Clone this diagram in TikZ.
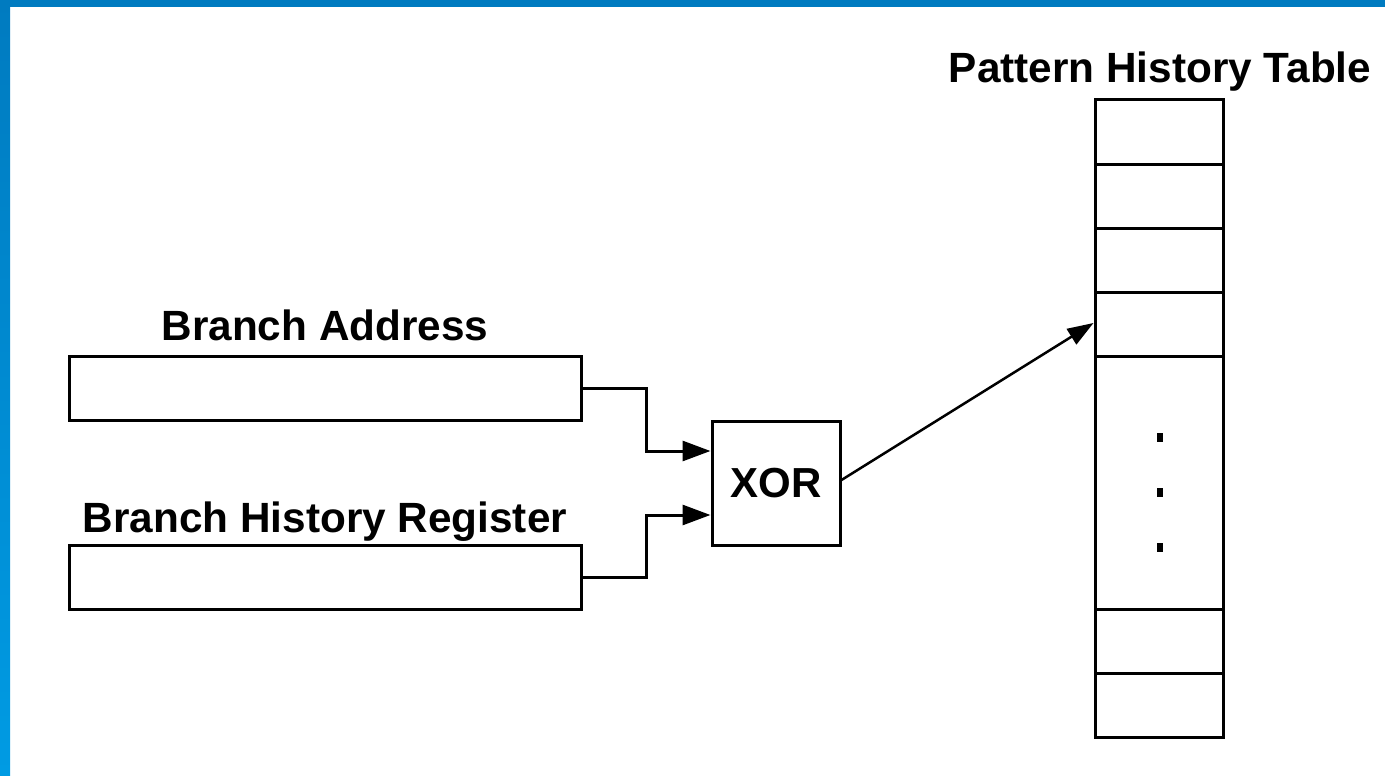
\documentclass[tikz,border=0pt]{standalone}
\usepackage{fontspec}
\setmainfont{Liberation Sans}
\usetikzlibrary{arrows.meta,calc}
\definecolor{framebluetop}{HTML}{007BC0}
\definecolor{frameblueleft}{HTML}{009BE3}
\begin{document}
\begin{tikzpicture}[x=1pt,y=-1pt,
  lbl/.style={font=\fontsize{42.3}{50}\selectfont\bfseries, anchor=base, inner sep=0pt},
  regbox/.style={draw, line width=3pt, minimum width=512pt, minimum height=64pt, inner sep=0pt},
  cell/.style={draw, line width=3pt, minimum width=128pt, inner sep=0pt},
  gate/.style={draw, line width=3pt, minimum width=128pt, minimum height=124pt, inner sep=0pt,
    font=\fontsize{42}{50}\selectfont\bfseries},
  wire/.style={line width=3pt, -{Triangle[length=28pt,width=20pt]}},
  ptr/.style={line width=2.5pt, -{Triangle[length=26pt,width=18pt]}},
  dot/.style={fill=black, minimum width=6pt, minimum height=9pt, inner sep=0pt}]
\useasboundingbox (0,0) rectangle (1385,776);
\fill[white] (0,0) rectangle (1385,776);
% frame
\shade[top color=framebluetop, bottom color=frameblueleft] (0,0) rectangle (10,776);
\fill[framebluetop] (0,0) rectangle (1385,7);

% input registers
\node[regbox] (ba) at (325,388) {};
\node[regbox] (bhr) at (325,577) {};
\node[lbl] (balbl) at (325,340) {Branch Address};
\node[lbl] (bhrlbl) at (325,532) {Branch History Register};

% hashing gate
\node[gate] (xor) at (776,483) {XOR};

% pattern history table
\node[cell, minimum height=64pt] (c1) at (1159,132) {};
\node[cell, minimum height=64pt] (c2) at (1159,196) {};
\node[cell, minimum height=64pt] (c3) at (1159,260) {};
\node[cell, minimum height=64pt] (c4) at (1159,324) {};
\node[cell, minimum height=253pt] (c5) at (1159,482.5) {};
\node[cell, minimum height=64pt] (c6) at (1159,641) {};
\node[cell, minimum height=64pt] (c7) at (1159,705) {};
\node[dot] (d1) at (1160,437) {};
\node[dot] (d2) at (1160,492) {};
\node[dot] (d3) at (1160,547) {};
\node[lbl] (phtlbl) at (1160,82) {Pattern History Table};

% connectors
\draw[wire] (ba.east) -- ++(64,0) |- ($(xor.west)+(0,-32)$);
\draw[wire] (bhr.east) -- ++(64,0) |- ($(xor.west)+(0,32)$);
\draw[ptr] ($(xor.east)+(0,-3)$) -- ($(c4.west)+(0,-1)$);
\end{tikzpicture}
\end{document}
